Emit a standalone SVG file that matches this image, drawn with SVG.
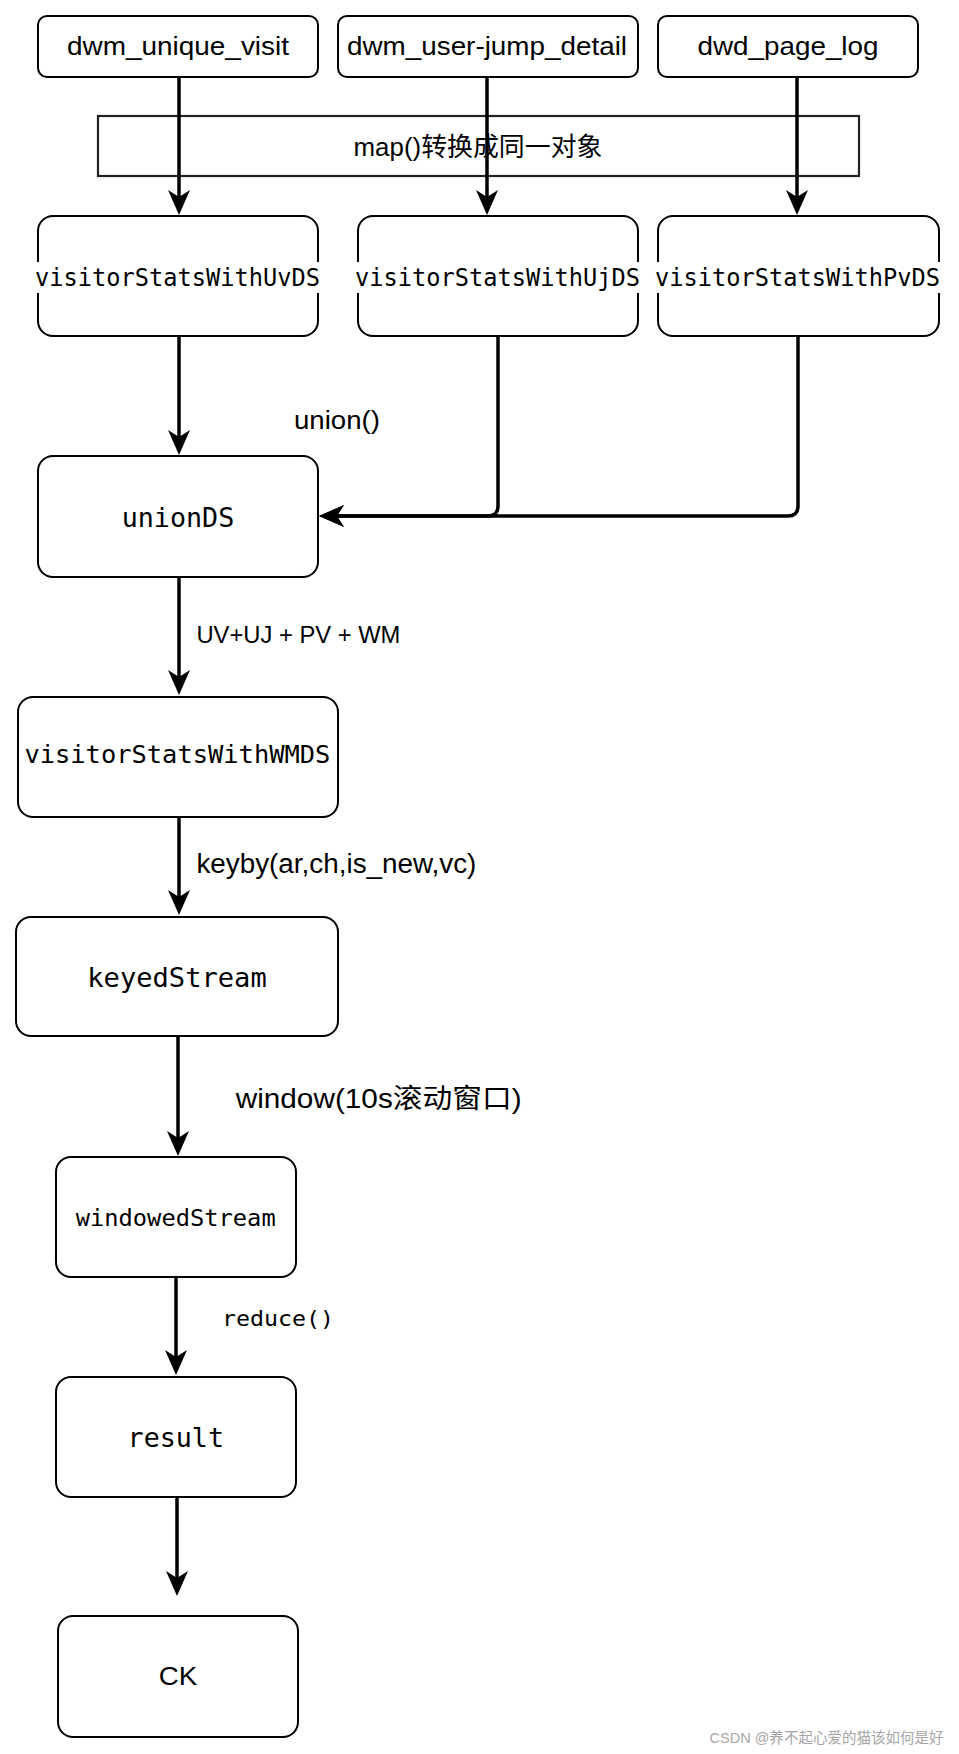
<svg xmlns="http://www.w3.org/2000/svg" width="959" height="1754" viewBox="0 0 959 1754">
<style>
.box{fill:#fff;stroke:#000;stroke-width:2}
.grp{fill:none;stroke:#222;stroke-width:2.2}
.sans{font-family:"Liberation Sans","Noto Sans CJK SC",sans-serif;fill:#000}
.mono{font-family:"DejaVu Sans Mono","Liberation Mono",monospace;fill:#000}
.c{text-anchor:middle}
.edge{fill:none;stroke:#000;stroke-width:3.5;marker-end:url(#arr)}
.bg{fill:#fff}
.wm{font-family:"Liberation Sans","Noto Sans CJK SC",sans-serif;fill:#a6a6a6}
</style>
<defs>
<marker id="arr" markerUnits="userSpaceOnUse" viewBox="0 0 25 22" markerWidth="25" markerHeight="22" refX="15" refY="11" orient="auto">
<path d="M0,0 L25,11 L0,22 L7,11 Z" fill="#000"/>
</marker>
</defs>
<rect width="959" height="1754" fill="#fff"/>

<g id="map-group">
<rect class="grp" x="98" y="116" width="761" height="60"/>
<text class="sans c" x="478" y="156" font-size="26" textLength="249" lengthAdjust="spacingAndGlyphs">map()转换成同一对象</text>
</g>

<g id="dwm_unique_visit">
<rect class="box" x="38" y="16" width="280" height="61" rx="9"/>
<text class="sans c" x="178" y="55" font-size="26" textLength="222" lengthAdjust="spacingAndGlyphs">dwm_unique_visit</text>
</g>
<g id="dwm_user_jump_detail">
<rect class="box" x="338" y="16" width="300" height="61" rx="9"/>
<text class="sans c" x="487" y="55" font-size="26" textLength="280" lengthAdjust="spacingAndGlyphs">dwm_user-jump_detail</text>
</g>
<g id="dwd_page_log">
<rect class="box" x="658" y="16" width="260" height="61" rx="9"/>
<text class="sans c" x="788" y="55" font-size="26" textLength="181" lengthAdjust="spacingAndGlyphs">dwd_page_log</text>
</g>

<g id="visitorStatsWithUvDS">
<rect class="box" x="38" y="216" width="280" height="120" rx="15"/>
<rect class="bg" x="34" y="262" width="288" height="31"/>
<text class="mono c" x="177.5" y="286" font-size="25" textLength="285" lengthAdjust="spacingAndGlyphs">visitorStatsWithUvDS</text>
</g>
<g id="visitorStatsWithUjDS">
<rect class="box" x="358" y="216" width="280" height="120" rx="15"/>
<rect class="bg" x="354" y="262" width="288" height="31"/>
<text class="mono c" x="497.5" y="286" font-size="25" textLength="285" lengthAdjust="spacingAndGlyphs">visitorStatsWithUjDS</text>
</g>
<g id="visitorStatsWithPvDS">
<rect class="box" x="658" y="216" width="281" height="120" rx="15"/>
<rect class="bg" x="654" y="262" width="288" height="31"/>
<text class="mono c" x="797.5" y="286" font-size="25" textLength="285" lengthAdjust="spacingAndGlyphs">visitorStatsWithPvDS</text>
</g>

<g id="unionDS">
<rect class="box" x="38" y="456" width="280" height="121" rx="15"/>
<text class="mono c" x="178" y="527" font-size="27" textLength="112.6" lengthAdjust="spacingAndGlyphs">unionDS</text>
</g>
<g id="visitorStatsWithWMDS">
<rect class="box" x="18" y="697" width="320" height="120" rx="15"/>
<text class="mono c" x="177.4" y="763" font-size="25" textLength="306" lengthAdjust="spacingAndGlyphs">visitorStatsWithWMDS</text>
</g>
<g id="keyedStream">
<rect class="box" x="16" y="917" width="322" height="119" rx="15"/>
<text class="mono c" x="177" y="987" font-size="27" textLength="179.5" lengthAdjust="spacingAndGlyphs">keyedStream</text>
</g>
<g id="windowedStream">
<rect class="box" x="56" y="1157" width="240" height="120" rx="15"/>
<text class="mono c" x="175.7" y="1226" font-size="23" textLength="200" lengthAdjust="spacingAndGlyphs">windowedStream</text>
</g>
<g id="result">
<rect class="box" x="56" y="1377" width="240" height="120" rx="15"/>
<text class="mono c" x="175.8" y="1447" font-size="27" textLength="96.5" lengthAdjust="spacingAndGlyphs">result</text>
</g>
<g id="CK">
<rect class="box" x="58" y="1616" width="240" height="121" rx="15"/>
<text class="sans c" x="178" y="1685" font-size="26" textLength="38.6" lengthAdjust="spacingAndGlyphs">CK</text>
</g>

<g id="connectors">
<path class="edge" d="M179,77 V205"/>
<path class="edge" d="M487,77 V205"/>
<path class="edge" d="M797,77 V205"/>
<path class="edge" d="M179,336 V445"/>
<path class="edge" d="M498,336 V506 Q498,516 488,516 H329"/>
<path class="edge" d="M798,336 V506 Q798,516 788,516 H329"/>
<path class="edge" d="M179,577 V685"/>
<path class="edge" d="M179,817 V905"/>
<path class="edge" d="M178,1036 V1146"/>
<path class="edge" d="M176,1277 V1365"/>
<path class="edge" d="M177,1497 V1586"/>
</g>

<g id="edge-labels">
<text class="sans" x="294" y="429" font-size="26" textLength="86" lengthAdjust="spacingAndGlyphs">union()</text>
<text class="sans" x="196.4" y="643" font-size="23" textLength="204" lengthAdjust="spacingAndGlyphs">UV+UJ + PV + WM</text>
<text class="sans" x="196.4" y="873" font-size="27" textLength="280" lengthAdjust="spacingAndGlyphs">keyby(ar,ch,is_new,vc)</text>
<text class="sans" x="235.7" y="1108" font-size="27" textLength="286" lengthAdjust="spacingAndGlyphs">window(10s滚动窗口)</text>
<text class="mono" x="222" y="1326" font-size="22" textLength="112" lengthAdjust="spacingAndGlyphs">reduce()</text>
</g>

<text class="wm" x="709.5" y="1742.7" font-size="15" textLength="234" lengthAdjust="spacingAndGlyphs">CSDN @养不起心爱的猫该如何是好</text>
</svg>
